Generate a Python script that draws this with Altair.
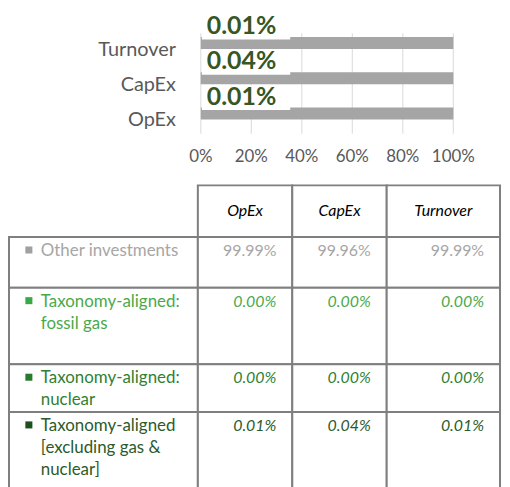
import altair as alt
import pandas as pd

# ---------------- data ----------------
kpis = ["OpEx", "CapEx", "Turnover"]
bar_order = ["Turnover", "CapEx", "OpEx"]
aligned_excl = [0.01, 0.04, 0.01]
fossil_gas = [0.00, 0.00, 0.00]
nuclear = [0.00, 0.00, 0.00]
other_inv = [99.99, 99.96, 99.99]
row_labels = [
    "Other investments",
    "Taxonomy-aligned:\nfossil gas",
    "Taxonomy-aligned:\nnuclear",
    "Taxonomy-aligned\n[excluding gas &\nnuclear]",
]
x_ticks = [0, 0.2, 0.4, 0.6, 0.8, 1.0]

# ---------------- styles / layout ----------------
FONT = "Lato"
row_colors = ["#a6a6a6", "#4aa94a", "#2f7f35", "#2c5a2c"]
square_colors = ["#a0a0a0", "#3aa846", "#2a7a2e", "#1f4f1f"]
seg_colors = ["#375623", "#a5a5a5"]
GRID = "#d9d9d9"
LINE = "#7f7f7f"
W, H = 497, 479
col_edges = [1, 191, 286, 381, 495]
row_edges = [177, 229, 280, 357, 405, 520]

# ---------------- top bar chart ----------------
bar_rows = []
for k, a, o in zip(kpis, aligned_excl, other_inv):
    bar_rows.append({"kpi": k, "seg": "aligned", "share": a / 100, "ord": 0})
    bar_rows.append({"kpi": k, "seg": "other", "share": o / 100, "ord": 1})
bar_df = pd.DataFrame(bar_rows)
lab_df = pd.DataFrame({"kpi": kpis, "label": [f"{v:.2f}%" for v in aligned_excl]})
tick_df = pd.DataFrame({"t": x_ticks, "tl": [f"{round(t * 100)}%" for t in x_ticks]})

xs = alt.Scale(domain=[0, 1], range=[194, 448], nice=False, zero=False)
ys = alt.Scale(domain=bar_order, range=[16, 122.5], paddingInner=0, paddingOuter=0)

grid = alt.Chart(tick_df).mark_rule(color=GRID, strokeWidth=1).encode(
    x=alt.X("t:Q", scale=xs, axis=None),
    y=alt.value(24),
    y2=alt.value(125),
)

tick_labels = alt.Chart(tick_df).mark_text(
    font=FONT, fontSize=17, color="#595959", align="center", baseline="middle",
).encode(
    x=alt.X("t:Q", scale=xs, axis=None),
    y=alt.value(148),
    text="tl:N",
)

bars = alt.Chart(bar_df).mark_bar(size=12).encode(
    x=alt.X("share:Q", stack="zero", scale=xs, axis=None),
    y=alt.Y("kpi:N", sort=bar_order, scale=ys, axis=None),
    color=alt.Color("seg:N", scale=alt.Scale(domain=["aligned", "other"], range=seg_colors), legend=None),
    order=alt.Order("ord:Q"),
)

cat_labels = alt.Chart(lab_df).mark_text(
    font=FONT, fontSize=20, color="#595959", align="right", baseline="middle", dx=-25, dy=7,
).encode(
    x=alt.X(datum=0, scale=xs, axis=None),
    y=alt.Y("kpi:N", sort=bar_order, scale=ys, axis=None),
    text="kpi:N",
)

boxes = alt.Chart(lab_df).mark_bar(size=25, yOffset=-16, color="white").encode(
    x=alt.X(datum=0.004, scale=xs, axis=None),
    x2=alt.X2(datum=0.354),
    y=alt.Y("kpi:N", sort=bar_order, scale=ys, axis=None),
)

labels = alt.Chart(lab_df).mark_text(
    font=FONT, fontSize=25, fontWeight="bold", color="#375623",
    align="left", baseline="middle", dx=6, dy=-17,
).encode(
    x=alt.X(datum=0, scale=xs, axis=None),
    y=alt.Y("kpi:N", sort=bar_order, scale=ys, axis=None),
    text="label:N",
)

top = alt.layer(grid, tick_labels, bars, cat_labels, boxes, labels)

# ---------------- table ----------------
tx = alt.Scale(domain=list(range(len(col_edges))), range=col_edges, nice=False, zero=False)
ty = alt.Scale(domain=list(range(len(row_edges))), range=row_edges, nice=False, zero=False)

cells = []
for i in range(len(kpis)):
    cells.append({"c0": i + 1, "c1": i + 2, "r0": 0, "r1": 1})
for r in range(len(row_labels)):
    for c in range(len(kpis) + 1):
        cells.append({"c0": c, "c1": c + 1, "r0": r + 1, "r1": r + 2})
cell_df = pd.DataFrame(cells)

cell_layer = alt.Chart(cell_df).mark_rect(fill="white", stroke=LINE, strokeWidth=2).encode(
    x=alt.X("c0:Q", scale=tx, axis=None),
    x2="c1:Q",
    y=alt.Y("r0:Q", scale=ty, axis=None),
    y2="r1:Q",
)

head_df = pd.DataFrame({"name": kpis, "cx": [i + 1.5 for i in range(len(kpis))], "cy": [0.5] * len(kpis)})
head_layer = alt.Chart(head_df).mark_text(
    font=FONT, fontSize=16, fontStyle="italic", color="#000000", align="center", baseline="middle",
).encode(
    x=alt.X("cx:Q", scale=tx, axis=None),
    y=alt.Y("cy:Q", scale=ty, axis=None),
    text="name:N",
)

series = [other_inv, fossil_gas, nuclear, aligned_excl]
lab_rows = []
val_rows = []
for r, (lab, vals) in enumerate(zip(row_labels, series)):
    lab_rows.append({"r": r + 1, "c": 0, "text": lab, "col": row_colors[r], "sq": square_colors[r]})
    for c, v in enumerate(vals):
        val_rows.append({"r": r + 1, "c": c + 2, "text": f"{v:.2f}%", "col": row_colors[r], "first": r == 0})
row_df = pd.DataFrame(lab_rows)
val_df = pd.DataFrame(val_rows)

squares = alt.Chart(row_df).mark_square(size=50, xOffset=20, yOffset=13, opacity=1).encode(
    x=alt.X("c:Q", scale=tx, axis=None),
    y=alt.Y("r:Q", scale=ty, axis=None),
    color=alt.Color("sq:N", scale=None),
)

row_text = alt.Chart(row_df).mark_text(
    font=FONT, fontSize=17, align="left", baseline="alphabetic",
    dx=32, dy=19, lineBreak="\n", lineHeight=22,
).encode(
    x=alt.X("c:Q", scale=tx, axis=None),
    y=alt.Y("r:Q", scale=ty, axis=None),
    text="text:N",
    color=alt.Color("col:N", scale=None),
)

val_first = alt.Chart(val_df[val_df["first"]]).mark_text(
    font=FONT, fontSize=16, align="right", baseline="alphabetic", dx=-16, dy=19,
).encode(
    x=alt.X("c:Q", scale=tx, axis=None),
    y=alt.Y("r:Q", scale=ty, axis=None),
    text="text:N",
    color=alt.Color("col:N", scale=None),
)

val_rest = alt.Chart(val_df[~val_df["first"]]).mark_text(
    font=FONT, fontSize=16, fontStyle="italic", align="right", baseline="alphabetic", dx=-16, dy=19,
).encode(
    x=alt.X("c:Q", scale=tx, axis=None),
    y=alt.Y("r:Q", scale=ty, axis=None),
    text="text:N",
    color=alt.Color("col:N", scale=None),
)

table = alt.layer(cell_layer, head_layer, squares, row_text, val_first, val_rest)

chart = (
    alt.layer(top, table)
    .resolve_scale(x="independent", y="independent", color="independent")
    .properties(width=W, height=H, autosize=alt.AutoSizeParams(type="none"), padding=0, background="white")
    .configure_view(stroke=None)
)

chart.save("out.html", embed_options={"renderer": "svg", "actions": False})
